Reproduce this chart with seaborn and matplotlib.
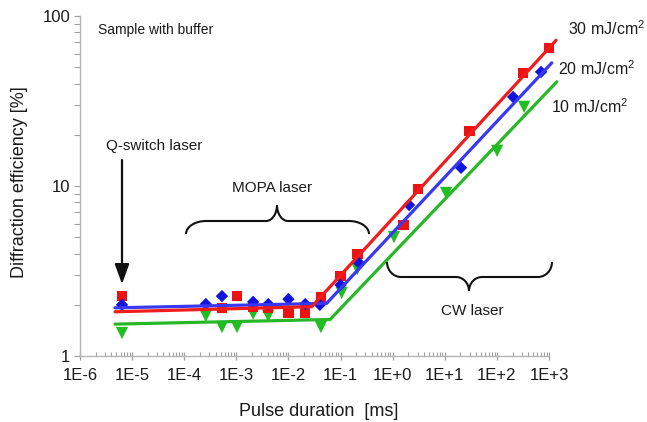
import numpy as np
import pandas as pd
import matplotlib
matplotlib.use("Agg")
import matplotlib.pyplot as plt
import seaborn as sns
from matplotlib.path import Path
from matplotlib.patches import PathPatch
from matplotlib.ticker import FixedLocator, FixedFormatter, LogLocator, NullFormatter

sns.set_theme(style="white")
plt.rcParams["font.family"] = ["Liberation Sans", "DejaVu Sans"]
plt.rcParams["mathtext.fontset"] = "custom"
plt.rcParams["mathtext.rm"] = "Liberation Sans"
plt.rcParams["mathtext.it"] = "Liberation Sans"
plt.rcParams["mathtext.default"] = "regular"

# ---------------- data ----------------
series_labels = ["30 mJ/cm$^2$", "20 mJ/cm$^2$", "10 mJ/cm$^2$"]

red_x = [6.4e-6, 5.3e-4, 1.03e-3, 2.1e-3, 4.1e-3, 1.0e-2, 2.1e-2, 4.2e-2, 0.10, 0.21, 1.6, 3.1, 30, 318, 1000]
red_y = [2.25, 1.92, 2.25, 1.94, 1.92, 1.79, 1.79, 2.22, 2.96, 3.98, 5.9, 9.6, 21.1, 46.2, 64.8]

blue_x = [6.4e-6, 2.6e-4, 5.3e-4, 2.1e-3, 4.1e-3, 1.0e-2, 2.1e-2, 4.0e-2, 0.10, 0.217, 2.07, 20.5, 205, 705]
blue_y = [2.0, 2.02, 2.25, 2.08, 2.02, 2.16, 2.02, 2.0, 2.62, 3.57, 7.73, 12.8, 33.4, 46.9]

green_x = [6.4e-6, 2.6e-4, 5.3e-4, 1.03e-3, 2.1e-3, 4.1e-3, 4.2e-2, 0.105, 0.21, 1.06, 10.6, 101, 333]
green_y = [1.365, 1.72, 1.48, 1.48, 1.77, 1.72, 1.48, 2.35, 3.25, 5.01, 9.1, 16.1, 29.2]

# fitted lines (flat part + power-law rise)
red_fit_x = [4.7e-6, 0.028, 1370]
red_fit_y = [1.82, 1.95, 72]
blue_fit_x = [4.7e-6, 0.054, 1130]
blue_fit_y = [1.92, 2.04, 53]
green_fit_x = [4.7e-6, 0.063, 1410]
green_fit_y = [1.54, 1.64, 41]

x_tick_values = [1e-6, 1e-5, 1e-4, 1e-3, 1e-2, 1e-1, 1e0, 1e1, 1e2, 1e3]
x_tick_labels = ["1E-6", "1E-5", "1E-4", "1E-3", "1E-2", "1E-1", "1E+0", "1E+1", "1E+2", "1E+3"]
y_tick_values = [1, 10, 100]
y_tick_labels = ["1", "10", "100"]

# ---------------- figure ----------------
W, H = 647, 422
fig = plt.figure(figsize=(W / 100, H / 100), dpi=100)
AX_L, AX_R, AX_T, AX_B = 80, 549, 16, 356
ax = fig.add_axes([AX_L / W, 1 - AX_B / H, (AX_R - AX_L) / W, (AX_B - AX_T) / H])


def frac(px, py):
    return ((px - AX_L) / (AX_R - AX_L), (AX_B - py) / (AX_B - AX_T))


RED, RED_M = "#f01c1c", "#ee1111"
BLUE, BLUE_M = "#3838f2", "#0f14dc"
GREEN, GREEN_M = "#27b827", "#1fbf1f"

# markers
sns.scatterplot(x=green_x, y=green_y, marker="v", s=78, color=GREEN_M, edgecolor="none",
                linewidth=0, ax=ax, zorder=2, clip_on=False)
sns.scatterplot(x=red_x, y=red_y, marker="s", s=56, color=RED_M, edgecolor="none",
                linewidth=0, ax=ax, zorder=2, clip_on=False)
sns.scatterplot(x=blue_x, y=blue_y, marker="D", s=40, color=BLUE_M, edgecolor="none",
                linewidth=0, ax=ax, zorder=2, clip_on=False)

# fit lines
for fx, fy, c in [(green_fit_x, green_fit_y, GREEN), (blue_fit_x, blue_fit_y, BLUE),
                  (red_fit_x, red_fit_y, RED)]:
    df = pd.DataFrame({"x": fx, "y": fy})
    sns.lineplot(data=df, x="x", y="y", sort=False, estimator=None, color=c, lw=2.3,
                 ax=ax, zorder=3, clip_on=False)

ax.set_xscale("log")
ax.set_yscale("log")
ax.set_xlim(1e-6, 1e3)
ax.set_ylim(1, 100)

ax.xaxis.set_major_locator(FixedLocator(x_tick_values))
ax.xaxis.set_major_formatter(FixedFormatter(x_tick_labels))
ax.xaxis.set_minor_locator(LogLocator(base=10, subs=np.arange(2, 10), numticks=30))
ax.xaxis.set_minor_formatter(NullFormatter())
ax.yaxis.set_major_locator(FixedLocator(y_tick_values))
ax.yaxis.set_major_formatter(FixedFormatter(y_tick_labels))
ax.yaxis.set_minor_locator(LogLocator(base=10, subs=np.arange(2, 10), numticks=30))
ax.yaxis.set_minor_formatter(NullFormatter())

for s in ["top", "right"]:
    ax.spines[s].set_visible(False)
for s in ["left", "bottom"]:
    ax.spines[s].set_color("#b4b4b4")
    ax.spines[s].set_linewidth(1.0)

ax.tick_params(axis="x", which="major", direction="inout", length=6, width=0.9,
               color="#a0a0a0", labelsize=12, labelcolor="#1a1a1a", pad=6)
ax.tick_params(axis="x", which="minor", direction="in", length=3, width=0.8, color="#a0a0a0")
ax.tick_params(axis="y", which="major", direction="out", length=4, width=0.9,
               color="#a0a0a0", labelsize=12, labelcolor="#1a1a1a", pad=3)
ax.tick_params(axis="y", which="minor", direction="out", length=4, width=0.8, color="#a0a0a0")
ax.tick_params(bottom=True, left=True, which="both")

ax.set_xlabel("Pulse duration  [ms]", fontsize=13, color="#1a1a1a", va="center")
ax.xaxis.set_label_coords(*frac(319, 411))
ax.set_ylabel("Diffraction efficiency [%]", fontsize=13, color="#1a1a1a", va="center",
              ha="center", rotation_mode="anchor")
ax.yaxis.set_label_coords(*frac(20, 182))

# texts
TA = dict(transform=ax.transAxes, color="#1a1a1a")
ax.text(*frac(98, 30), "Sample with buffer", fontsize=10, ha="left", va="center", **TA)
ax.text(*frac(154, 146), "Q-switch laser", fontsize=11, ha="center", va="center", **TA)
ax.text(*frac(272, 188), "MOPA laser", fontsize=11, ha="center", va="center", **TA)
ax.text(*frac(472, 311), "CW laser", fontsize=11, ha="center", va="center", **TA)
ax.text(*frac(568, 29), series_labels[0], fontsize=11.5, ha="left", va="center", **TA)
ax.text(*frac(558, 69), series_labels[1], fontsize=11.5, ha="left", va="center", **TA)
ax.text(*frac(551, 107), series_labels[2], fontsize=11.5, ha="left", va="center", **TA)

# arrow for Q-switch laser
ax.annotate("", xy=frac(122, 284), xytext=frac(122, 160), xycoords="axes fraction",
            textcoords="axes fraction",
            arrowprops=dict(arrowstyle="-|>,head_length=0.6,head_width=0.22", lw=1.6,
                            color="#111111", mutation_scale=20, shrinkA=0, shrinkB=0))


# curly braces
def brace(x0, x1, xc, y_end, y_h, y_c, r, r2):
    k = 0.55
    pts = [
        (x0, y_end),
        (x0, y_end + k * (y_h - y_end)), (x0 + (1 - k) * r, y_h), (x0 + r, y_h),
        (xc - r2, y_h),
        (xc - r2 + k * r2, y_h), (xc, y_c + k * (y_h - y_c)), (xc, y_c),
        (xc, y_c + k * (y_h - y_c)), (xc + r2 - k * r2, y_h), (xc + r2, y_h),
        (x1 - r, y_h),
        (x1 - (1 - k) * r, y_h), (x1, y_end + k * (y_h - y_end)), (x1, y_end),
    ]
    codes = [Path.MOVETO,
             Path.CURVE4, Path.CURVE4, Path.CURVE4,
             Path.LINETO,
             Path.CURVE4, Path.CURVE4, Path.CURVE4,
             Path.CURVE4, Path.CURVE4, Path.CURVE4,
             Path.LINETO,
             Path.CURVE4, Path.CURVE4, Path.CURVE4]
    verts = [frac(px, py) for px, py in pts]
    patch = PathPatch(Path(verts, codes), fill=False, lw=1.5, edgecolor="#111111",
                      transform=ax.transAxes, clip_on=False, zorder=4)
    ax.add_patch(patch)


brace(186, 369, 277, 234, 221, 205, 20, 11)
brace(387, 552, 469, 262, 277, 291, 14, 13)

fig.savefig("out.png", dpi=100, facecolor="white")
